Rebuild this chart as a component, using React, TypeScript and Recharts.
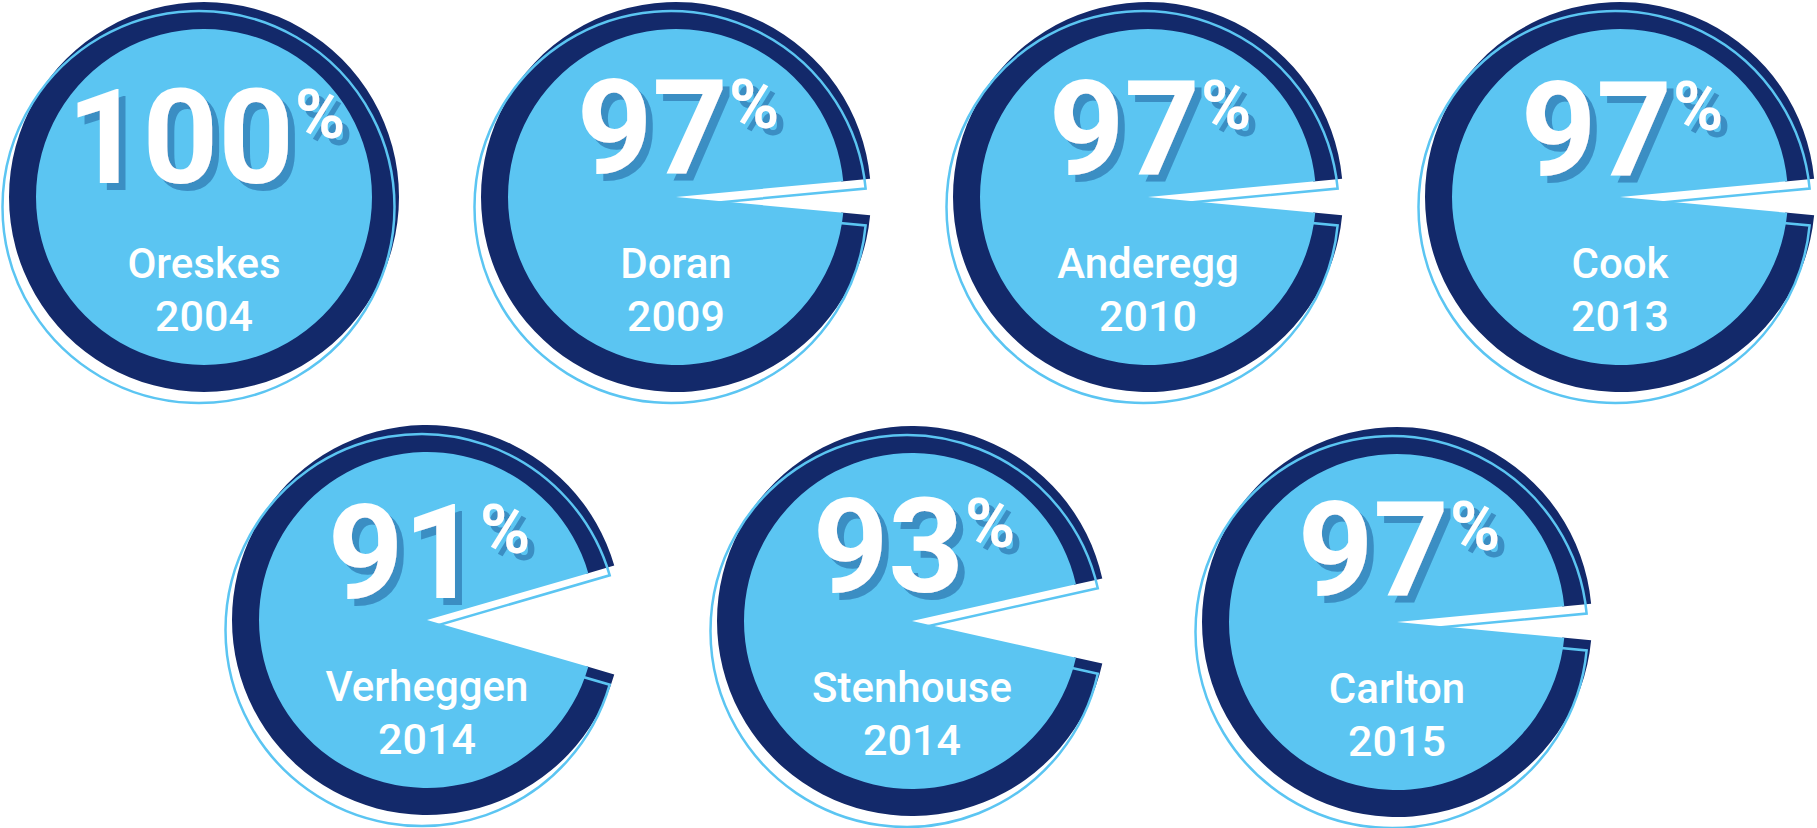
import { PieChart, Pie, Cell } from 'recharts';

// studies and their consensus share (%)
const authors = ['Oreskes', 'Doran', 'Anderegg', 'Cook', 'Verheggen', 'Stenhouse', 'Carlton'];
const years = ['2004', '2009', '2010', '2013', '2014', '2014', '2015'];
const shares = [100, 97, 97, 97, 91, 93, 97];

// layout only
const centers = [
  [204, 197], [676, 197], [1148, 197], [1620, 197],
  [427, 620], [912, 621], [1397, 622],
];
const numberLift = [14, 24, 23, 22, 22, 29, 27];

const NAVY = '#13296a';
const SKY = '#5bc5f2';
const SHADOW = '#3a8ec3';
const W = 1817;
const H = 828;
const R_OUT = 195;
const R_IN = 168;
const OFF_X = -5.5;
const OFF_Y = 10;
const FONT = 'Roboto, "Noto Sans", sans-serif';

const pieData = (share: number) => [
  { name: 'agree', value: share },
  { name: 'other', value: 100 - share },
];

const makeLabel = (i: number) => (props: any) => {
  if (props.index !== 0) return <g />;
  const { cx, cy } = props;
  const base = cy - numberLift[i];
  const fid = `numShadow${i}`;
  return (
    <g>
      <defs>
        <filter id={fid} x="-20%" y="-20%" width="140%" height="140%">
          <feOffset in="SourceAlpha" dx={7} dy={7} result="off" />
          <feFlood floodColor={SHADOW} result="col" />
          <feComposite in="col" in2="off" operator="in" result="shadow" />
          <feMerge>
            <feMergeNode in="shadow" />
            <feMergeNode in="SourceGraphic" />
          </feMerge>
        </filter>
      </defs>
      <text
        x={cx + 2}
        y={base}
        fill="#ffffff"
        textAnchor="middle"
        fontFamily={FONT}
        fontWeight={700}
        fontSize={132}
        filter={`url(#${fid})`}
      >
        {shares[i]}
        <tspan fontSize={68} dx={1} dy={-45}>%</tspan>
      </text>
      <text x={cx} y={cy + 81} fill="#ffffff" textAnchor="middle" fontFamily={FONT} fontWeight={500} fontSize={42}>
        {authors[i]}
      </text>
      <text x={cx} y={cy + 134} fill="#ffffff" textAnchor="middle" fontFamily={FONT} fontWeight={500} fontSize={43}>
        {years[i]}
      </text>
    </g>
  );
};

const App = () => {
  return (
    <div style={{ position: 'absolute', left: 0, top: 0, width: W, height: H, background: '#ffffff' }}>
      <PieChart width={W} height={H} margin={{ top: 0, right: 0, bottom: 0, left: 0 }}>
        {shares.map((share, i) => {
          const [cx, cy] = centers[i];
          const gap = (100 - share) * 1.8;
          const full = share >= 100;
          const ringLen = 2 * Math.PI * (R_OUT + 1);
          return [
            <Pie
              key={`ring-${i}`}
              data={pieData(share)}
              dataKey="value"
              cx={cx}
              cy={cy}
              innerRadius={R_IN - 2}
              outerRadius={R_OUT}
              startAngle={gap}
              endAngle={gap + 360}
              stroke="none"
              isAnimationActive={false}
            >
              <Cell fill={NAVY} />
              <Cell fill="none" />
            </Pie>,
            <Pie
              key={`line-${i}`}
              data={pieData(share)}
              dataKey="value"
              cx={cx + OFF_X}
              cy={cy + OFF_Y}
              innerRadius={0}
              outerRadius={R_OUT + 1}
              startAngle={gap}
              endAngle={gap + 360}
              isAnimationActive={false}
            >
              <Cell
                fill="none"
                stroke={SKY}
                strokeWidth={2.5}
                strokeDasharray={full ? `${ringLen} ${2 * R_OUT + 40}` : undefined}
              />
              <Cell fill="none" stroke="none" />
            </Pie>,
            <Pie
              key={`fill-${i}`}
              data={pieData(share)}
              dataKey="value"
              cx={cx}
              cy={cy}
              innerRadius={0}
              outerRadius={R_IN}
              startAngle={gap}
              endAngle={gap + 360}
              stroke="none"
              label={makeLabel(i)}
              labelLine={false}
              isAnimationActive={false}
            >
              <Cell fill={SKY} />
              <Cell fill="none" />
            </Pie>,
          ];
        })}
      </PieChart>
    </div>
  );
};

export default App;
